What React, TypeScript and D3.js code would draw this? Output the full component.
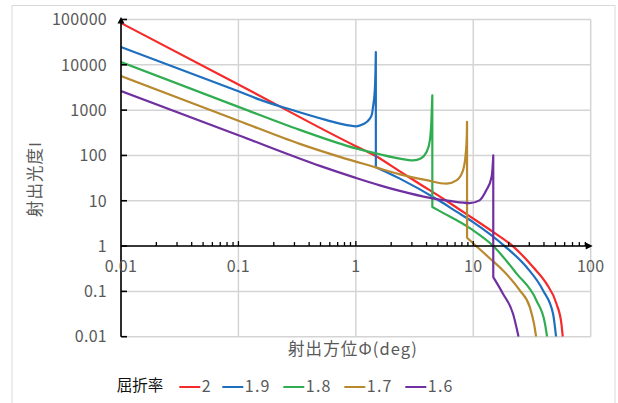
import React from "react";
import * as d3 from "d3";

const W = 618;
const H = 403;

const seriesNames = ["2", "1.9", "1.8", "1.7", "1.6"];
const seriesColors = ["#f52a2a", "#1f6fbf", "#30ad50", "#b8892f", "#7030a0"];

// n = 2
const phiN20 = [0.01, 0.1, 1, 1.45, 2.37, 3.29, 5.9, 8.18, 14.8, 21.7, 32.3, 42, 51.1, 56.3, 57.8];
const intN20 = [83700, 3690, 160, 100, 44.6, 25.9, 10, 5.7, 2.04, 1.0, 0.344, 0.148, 0.0535, 0.0194, 0.01];

// n = 1.9 (repeated angle = drop after the peak)
const phiN19 = [0.01, 0.1, 0.152, 0.257, 0.564, 0.731, 1.01, 1.15, 1.315, 1.37, 1.4, 1.45, 1.47, 1.48,
  1.48, 2.37, 5.19, 7.19, 9.96, 18.5, 28.4, 39.3, 47.8, 50.7];
const intN19 = [24700, 2600, 1706, 1096, 600, 503, 440, 486, 649, 808, 1170, 2736, 7560, 19200,
  55, 30.8, 9.85, 5.75, 3.39, 1.0, 0.344, 0.105, 0.032, 0.01];

// n = 1.8
const phiN18 = [0.01, 0.1, 0.333, 1, 1.6, 2.37, 3.08, 3.57, 4.0, 4.27, 4.4, 4.48,
  4.48, 5.19, 9.5, 14.8, 23.3, 34.5, 40.7, 42.5];
const intN18 = [11500, 1180, 367, 143, 106, 85, 78, 86, 119, 215, 595, 2120,
  7.3, 5.9, 2.42, 1.0, 0.25, 0.063, 0.02, 0.01];

// n = 1.7
const phiN17 = [0.01, 0.1, 0.333, 0.731, 1.48, 2.37, 4.0, 5.91, 7.19, 8.18, 8.63, 8.81, 8.85,
  8.85, 11.3, 13.8, 17.9, 24.9, 30.3, 32.8, 34.3];
const intN17 = [5660, 584, 180, 93, 54.6, 38.3, 28.5, 23.8, 28.2, 47, 111, 278, 552,
  1.53, 0.86, 0.54, 0.29, 0.105, 0.045, 0.02, 0.01];

// n = 1.6
const phiN16 = [0.01, 0.1, 0.494, 1, 1.6, 2.37, 4.27, 6.31, 9.33, 11.3, 12.9, 14.3, 14.6, 14.8,
  14.8, 17.9, 21.8, 24.3];
const intN16 = [2640, 279, 58.9, 32, 21.9, 16.5, 11.6, 9.9, 8.9, 10.2, 17, 33, 55, 100,
  0.207, 0.089, 0.032, 0.01];

const seriesPhi = [phiN20, phiN19, phiN18, phiN17, phiN16];
const seriesInt = [intN20, intN19, intN18, intN17, intN16];

const xTickValues = [0.01, 0.1, 1, 10, 100];
const xTickLabels = ["0.01", "0.1", "1", "10", "100"];
const yTickValues = [100000, 10000, 1000, 100, 10, 1, 0.1, 0.01];
const yTickLabels = ["100000", "10000", "1000", "100", "10", "1", "0.1", "0.01"];

const legendTitle = "屈折率";
const xTitle = "射出方位Φ(deg)";
const yTitle = "射出光度I";

const FONT = "'Noto Sans CJK JP', 'Noto Sans', sans-serif";
const GRAY = "#595959";

export default function App() {
  const left = 121;
  const right = 590.7;
  const top = 19.5;
  const bottom = 336.7;

  const x = d3.scaleLog().domain([0.01, 100]).range([left, right]);
  const y = d3.scaleLog().domain([0.01, 100000]).range([bottom, top]);

  const lineGen = d3
    .line<[number, number]>()
    .x((d) => x(d[0]))
    .y((d) => y(d[1]))
    .curve(d3.curveMonotoneX);

  const buildPath = (phi: number[], ints: number[]) => {
    const segs: [number, number][][] = [];
    let cur: [number, number][] = [];
    for (let i = 0; i < phi.length; i++) {
      if (i > 0 && phi[i] === phi[i - 1]) {
        segs.push(cur);
        cur = [];
      }
      cur.push([phi[i], ints[i]]);
    }
    segs.push(cur);
    return segs
      .map((s, i) => {
        const p = lineGen(s) || "";
        return i === 0 ? p : "L" + p.slice(1);
      })
      .join("");
  };

  const y1 = y(1);

  const minorTicks: number[] = [];
  [0.01, 0.1, 1, 10].forEach((d) => {
    for (let k = 2; k <= 9; k++) minorTicks.push(d * k);
  });

  const legendItems: { x: number; name: string; color: string }[] = [];
  let lx = 179.3;
  seriesNames.forEach((n, i) => {
    legendItems.push({ x: lx, name: n, color: seriesColors[i] });
    lx += 21 + 2 + n.length * 9 + 11;
  });

  return (
    <svg
      width={W}
      height={H}
      style={{ position: "absolute", left: 0, top: 0, background: "#fff" }}
      fontFamily={FONT}
    >
      <rect x={0} y={0} width={W} height={H} fill="#fff" />
      <rect x={12} y={5.5} width={603} height={430} fill="none" stroke="#d9d9d9" strokeWidth={1} />
      <defs>
        <clipPath id="plotClip">
          <rect x={left} y={top - 2} width={right - left + 2} height={bottom - top + 2} />
        </clipPath>
      </defs>

      {/* grid */}
      {yTickValues.map((v) => (
        <line key={"gy" + v} x1={left} x2={right} y1={y(v)} y2={y(v)} stroke="#d4d4d4" strokeWidth={1.5} />
      ))}
      {xTickValues.map((v) => (
        <line key={"gx" + v} x1={x(v)} x2={x(v)} y1={top} y2={bottom} stroke="#d4d4d4" strokeWidth={1.5} />
      ))}

      {/* series */}
      <g clipPath="url(#plotClip)">
        {seriesPhi.map((phi, i) => (
          <path
            key={"s" + i}
            d={buildPath(phi, seriesInt[i])}
            fill="none"
            stroke={seriesColors[i]}
            strokeWidth={2.2}
            strokeLinejoin="round"
          />
        ))}
      </g>

      {/* y axis */}
      <line x1={left} x2={left} y1={bottom} y2={top} stroke="#000" strokeWidth={1.6} />
      <path d={`M${left},${top - 2.5} L${left - 3.5},${top + 4} L${left + 3.5},${top + 4} Z`} fill="#000" />
      {yTickValues.map((v) => (
        <line key={"ty" + v} x1={left} x2={left + 6} y1={y(v)} y2={y(v)} stroke="#000" strokeWidth={1.6} />
      ))}
      {yTickValues.map((v, i) => (
        <text
          key={"ly" + v}
          x={107}
          y={y(v)}
          dy="0.36em"
          textAnchor="end"
          fontSize={16}
          fill={GRAY}
          letterSpacing={0.3}
        >
          {yTickLabels[i]}
        </text>
      ))}

      {/* x axis at I = 1 */}
      <line x1={left} x2={right} y1={y1} y2={y1} stroke="#000" strokeWidth={1.6} />
      <path d={`M${right + 2},${y1} L${right - 5},${y1 - 3.5} L${right - 5},${y1 + 3.5} Z`} fill="#000" />
      {minorTicks.map((v) => (
        <line key={"mt" + v} x1={x(v)} x2={x(v)} y1={y1} y2={y1 - 4} stroke="#000" strokeWidth={1.3} />
      ))}
      {xTickValues.slice(1, 4).map((v) => (
        <line key={"Mt" + v} x1={x(v)} x2={x(v)} y1={y1} y2={y1 - 5} stroke="#000" strokeWidth={1.3} />
      ))}
      {xTickValues.map((v, i) => (
        <text
          key={"lx" + v}
          x={x(v)}
          y={266.5}
          dy="0.36em"
          textAnchor="middle"
          fontSize={16}
          fill={GRAY}
          letterSpacing={0.3}
        >
          {xTickLabels[i]}
        </text>
      ))}

      {/* titles */}
      <text
        x={288}
        y={349}
        dy="0.36em"
        textAnchor="start"
        fontSize={16.5}
        fill={GRAY}
        letterSpacing={1.1}
      >
        {xTitle}
      </text>
      <text
        transform={`translate(35,179) rotate(-90)`}
        textAnchor="middle"
        dy="0.36em"
        fontSize={16.5}
        fill={GRAY}
        letterSpacing={1}
      >
        {yTitle}
      </text>

      {/* legend */}
      <text x={116.7} y={385.5} dy="0.36em" fontSize={15.5} fill="#111">
        {legendTitle}
      </text>
      {legendItems.map((it) => (
        <g key={"lg" + it.name}>
          <line x1={it.x} x2={it.x + 21} y1={387} y2={387} stroke={it.color} strokeWidth={2} />
          <text x={it.x + 22.5} y={386} dy="0.36em" fontSize={16} fill={GRAY} letterSpacing={1.2}>
            {it.name}
          </text>
        </g>
      ))}
    </svg>
  );
}
